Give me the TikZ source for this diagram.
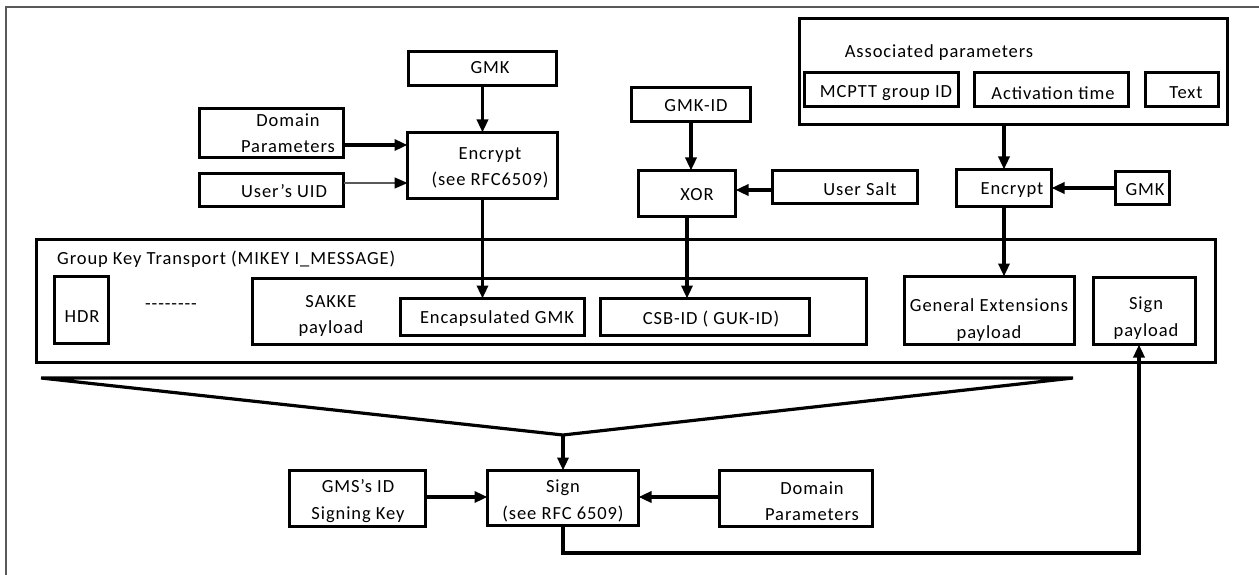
\documentclass[tikz,border=0pt]{standalone}
\usepackage{fontspec}
\setmainfont{Carlito}[LetterSpace=5]
\usetikzlibrary{arrows.meta}
\tikzset{
  box/.style={draw, line width=3.2pt, inner sep=0pt, outer sep=0pt},
  txt/.style={align=center, inner sep=0pt, font=\fontsize{18.5}{26.5}\selectfont},
  arr/.style={line width=3.2pt, -{Triangle[length=13pt,width=11pt]}},
  thinarr/.style={line width=1.5pt, draw=black!65, -{Triangle[length=13pt,width=11pt,color=black]}},
  ln/.style={line width=3.2pt},
}
\begin{document}
\begin{tikzpicture}[x=1pt,y=-1pt]
\useasboundingbox (0,0) rectangle (1259,575);
\draw[line width=1.8pt, black!65] (6,575) -- (6,7) -- (1259,7);

% top-left
\node[box, minimum width=148, minimum height=34] (gmk) at (482.5,68.5) {};
\node[box, minimum width=144, minimum height=49] (dom1) at (271.5,133) {};
\node[box, minimum width=150, minimum height=66] (enc1) at (482.5,165.5) {};
\node[box, minimum width=144, minimum height=33] (uid) at (271.5,190) {};
% middle
\node[box, minimum width=119, minimum height=34] (gmkid) at (691,104.5) {};
\node[box, minimum width=97, minimum height=46] (xor) at (687,193.5) {};
\node[box, minimum width=145, minimum height=33] (salt) at (845,187) {};
% associated
\node[box, minimum width=428, minimum height=106] (assoc) at (1013.5,71.5) {};
\node[box, minimum width=154, minimum height=34] (mcptt) at (881.5,89.5) {};
\node[box, minimum width=154, minimum height=34] (act) at (1051.5,89.5) {};
\node[box, minimum width=73, minimum height=34] (textb) at (1182,89.5) {};
\node[box, minimum width=95, minimum height=37] (enc2) at (1004,188) {};
\node[box, minimum width=54, minimum height=33] (gmk2) at (1142.5,188) {};
% group key transport
\node[box, minimum width=1179, minimum height=123] (gkt) at (626,301) {};
\node[box, minimum width=54, minimum height=67] (hdr) at (81.5,310) {};
\node[box, minimum width=614, minimum height=66] (sakke) at (559.5,311.5) {};
\node[box, minimum width=184, minimum height=37] (encap) at (492.5,317) {};
\node[box, minimum width=209, minimum height=37] (csb) at (705,317) {};
\node[box, minimum width=170, minimum height=68] (genext) at (989.5,310.5) {};
\node[box, minimum width=102, minimum height=67] (signp) at (1144.5,311) {};
% bottom
\node[box, minimum width=136, minimum height=56] (gms) at (357.5,498.5) {};
\node[box, minimum width=151, minimum height=55] (sign) at (563,498) {};
\node[box, minimum width=153, minimum height=56] (dom2) at (796,498.5) {};

% texts
\node[txt] (tgmk) at (490,68) {GMK};
\node[txt] (tdom1) at (288,133) {Domain\\Parameters};
\node[txt] (tenc1) at (490,168) {Encrypt\\(see RFC6509)};
\node[txt] (tuid) at (284,191) {User’s UID};
\node[txt] (tgmkid) at (696,106) {GMK-ID};
\node[txt] (txor) at (697,195) {XOR};
\node[txt] (tsalt) at (860,189) {User Salt};
\node[txt] (tassoc) at (939,53) {Associated parameters};
\node[txt] (tmcptt) at (886,93) {MCPTT group ID};
\node[txt] (tact) at (1053,93) {Activation time};
\node[txt] (ttext) at (1186,93) {Text};
\node[txt] (tenc2) at (1012,190) {Encrypt};
\node[txt] (tgmk2) at (1145,190) {GMK};
\node[txt, anchor=west] (tgkt) at (57,259) {Group Key Transport (MIKEY I\_MESSAGE)};
\node[txt] (thdr) at (82,317) {HDR};
\node[txt] (tdots) at (171,307) {{-}{-}{-}{-}{-}{-}{-}{-}};
\node[txt] (tsakke) at (331,316) {SAKKE\\payload};
\node[txt] (tencap) at (497,319) {Encapsulated GMK};
\node[txt] (tcsb) at (711,319) {CSB-ID ( GUK-ID)};
\node[txt] (tgenext) at (989,320) {General Extensions\\payload};
\node[txt] (tsignp) at (1146,318) {Sign\\payload};
\node[txt] (tgms) at (358,501) {GMS’s ID\\Signing Key};
\node[txt] (tsign) at (563,501) {Sign\\(see RFC 6509)};
\node[txt] (tdom2) at (812,501) {Domain\\Parameters};

% helper coordinates
\coordinate (y145) at (0,145);
\coordinate (y183) at (0,183);
\coordinate (y190) at (0,190);
\coordinate (y497) at (0,497);
\coordinate (fl) at (41,378);
\coordinate (fr) at (1073,378);
\coordinate (apex) at (563,435);
\coordinate (corner) at (1139,553);

% connectors
\draw[arr] (gmk.south) -- (gmk.south |- enc1.north);
\draw[arr] (dom1.east |- y145) -- (enc1.west |- y145);
\draw[thinarr] (uid.east |- y183) -- (enc1.west |- y183);
\draw[arr] (gmkid.south) -- (gmkid.south |- xor.north);
\draw[arr] (salt.west |- y190) -- (xor.east |- y190);
\draw[arr] (enc2.north |- assoc.south) -- (enc2.north);
\draw[arr] (gmk2.west) -- (enc2.east);
\draw[arr] (enc1.south) -- (enc1.south |- encap.north);
\draw[arr] (xor.south) -- (xor.south |- csb.north);
\draw[arr] (enc2.south) -- (enc2.south |- genext.north);
\draw[ln, line join=miter] (fl) -- (fr) -- (apex) -- (fl);
\draw[arr] (apex) -- (apex |- sign.north);
\draw[arr] (gms.east |- y497) -- (sign.west |- y497);
\draw[arr] (dom2.west |- y497) -- (sign.east |- y497);
\draw[arr] (sign.south) |- (corner) -- (corner |- signp.south);
\end{tikzpicture}
\end{document}
